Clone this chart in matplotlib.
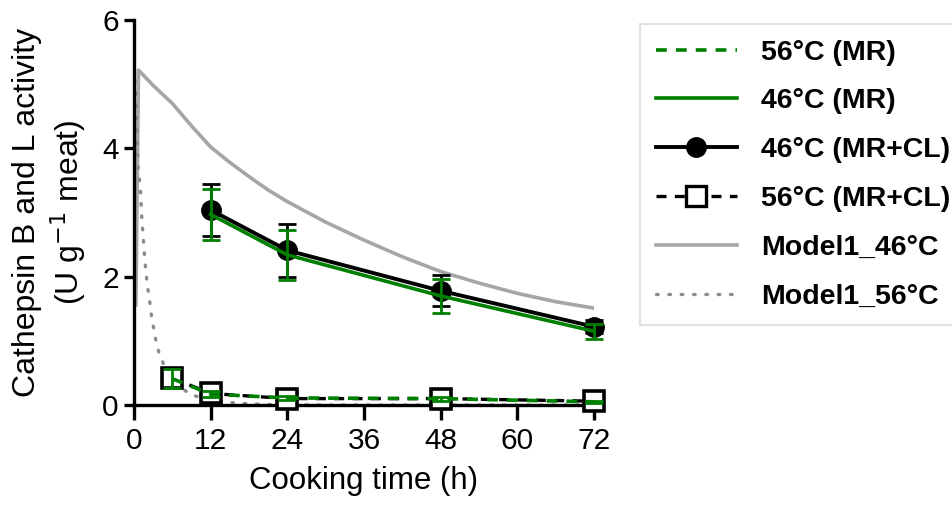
import numpy as np
import matplotlib.pyplot as plt
from matplotlib.lines import Line2D

plt.rcParams['font.family'] = ['Liberation Sans', 'DejaVu Sans']

# Measured cathepsin B+L activity (U g-1 meat) vs cooking time (h)
t_46 = [12, 24, 48, 72]
mr_46 = [2.97, 2.34, 1.70, 1.15]
mr_46_err = [0.40, 0.39, 0.26, 0.12]
mrcl_46 = [3.04, 2.41, 1.78, 1.22]
mrcl_46_err = [0.41, 0.41, 0.24, 0.10]

t_56 = [6, 12, 24, 48, 72]
mr_56 = [0.41, 0.17, 0.11, 0.10, 0.05]
mr_56_err = [0.15, 0.05, 0.03, 0.03, 0.02]
mrcl_56 = [0.42, 0.18, 0.10, 0.10, 0.06]
mrcl_56_err = [0.05, 0.04, 0.03, 0.03, 0.02]

# Model 1 predictions
t_model46 = [0.3, 0.7, 3, 6, 9, 12, 15, 18, 21, 24, 30, 36, 42, 48, 54, 60, 66, 72]
model46 = [1.56, 5.22, 4.98, 4.70, 4.35, 4.02, 3.78, 3.56, 3.35, 3.17, 2.85, 2.57,
           2.31, 2.08, 1.90, 1.74, 1.61, 1.51]
t_model56 = [0, 0.3, 0.5, 0.67, 0.89, 1.04, 1.2, 1.46, 1.72, 2.08, 2.35, 2.77, 3.13,
             3.44, 3.87, 4.49, 5.12, 6.4, 8.8, 12.2, 15.8, 20, 30, 40, 50, 60, 72]
model56 = [5.25, 4.80, 4.20, 3.66, 3.48, 3.30, 2.95, 2.59, 2.23, 1.87, 1.70, 1.36, 1.17,
           1.00, 0.83, 0.67, 0.50, 0.36, 0.16, 0.08, 0.03, 0.01, 0, 0, 0, 0, 0]

green = '#008000'
grey = '#a6a6a6'
dotgrey = '#8c8c8c'
dash = (0, (3, 2.5))
dots = (0, (0.5, 3.2))

fig = plt.figure(figsize=(9.53, 5.09), dpi=100)
ax = fig.add_axes([0.1406, 0.2043, 0.4827, 0.7564])

ax.plot(t_model46, model46, color=grey, lw=2.6, zorder=2)
ax.plot(t_model56, model56, color=dotgrey, lw=2.4, ls=dots,
        dash_capstyle='round', zorder=2)

# 56 °C with collagen (black dashed, open squares)
ax.errorbar(t_56, mrcl_56, yerr=mrcl_56_err, color='black', lw=2.4, ls=dash,
            marker='s', ms=14, mfc='white', mec='black', mew=2.6,
            capsize=6.5, capthick=2, elinewidth=2, zorder=3, clip_on=False)
# 46 °C with collagen (black solid, filled circles)
ax.errorbar(t_46, mrcl_46, yerr=mrcl_46_err, color='black', lw=2.8,
            marker='o', ms=14, capsize=6.5, capthick=2, elinewidth=2, zorder=4,
            clip_on=False)
# Meat-only series in green
ax.errorbar(t_46, mr_46, yerr=mr_46_err, color=green, lw=2.6,
            capsize=6.5, capthick=2, elinewidth=2, zorder=5, clip_on=False)
ax.errorbar(t_56, mr_56, yerr=mr_56_err, color=green, lw=2.6, ls=dash,
            capsize=6.5, capthick=2, elinewidth=2, zorder=5, clip_on=False)

ax.set_xlim(0, 72)
ax.set_ylim(0, 6)
ax.set_xticks([0, 12, 24, 36, 48, 60, 72])
ax.set_yticks([0, 2, 4, 6])
for side in ('top', 'right'):
    ax.spines[side].set_visible(False)
for side in ('left', 'bottom'):
    ax.spines[side].set_linewidth(2.4)
ax.tick_params(direction='out', width=2.4, labelsize=21.5)
ax.tick_params(axis='y', length=7, pad=4)
ax.tick_params(axis='x', length=11, pad=5)

ax.set_xlabel('Cooking time (h)', fontsize=22.5, labelpad=8)
ax.set_ylabel('Cathepsin B and L activity\n(U g$^{-1}$ meat)', fontsize=23,
              labelpad=10, linespacing=1.2)

handles = [
    Line2D([], [], color=green, lw=2.6, ls=dash),
    Line2D([], [], color=green, lw=2.6),
    Line2D([], [], color='black', lw=2.8, marker='o', ms=14),
    Line2D([], [], color='black', lw=2.4, ls=dash, marker='s', ms=14,
           mfc='white', mew=2.4),
    Line2D([], [], color=grey, lw=2.6),
    Line2D([], [], color=dotgrey, lw=2.4, ls=dots, dash_capstyle='round'),
]
labels = ['56°C (MR)', '46°C (MR)', '46°C (MR+CL)', '56°C (MR+CL)',
          'Model1_46°C', 'Model1_56°C']
leg = fig.legend(handles, labels, loc='upper left', bbox_to_anchor=(0.6716, 0.953),
                 borderaxespad=0, frameon=True, fancybox=False, handlelength=2.85,
                 handletextpad=0.85, labelspacing=0.8, borderpad=0.55,
                 prop={'size': 20.5, 'weight': 'bold'})
leg.get_frame().set_edgecolor('#d9d9d9')
leg.get_frame().set_linewidth(1.5)

fig.savefig('out.png', dpi=100)
